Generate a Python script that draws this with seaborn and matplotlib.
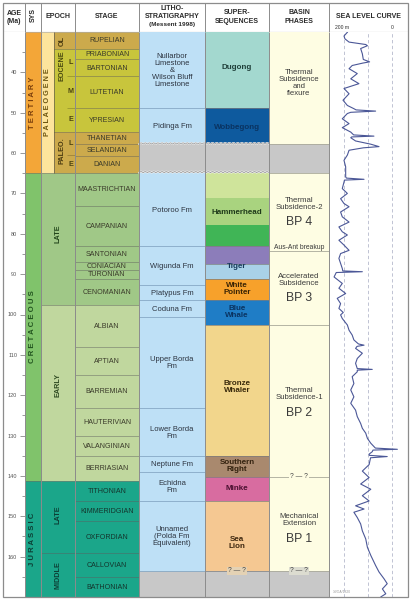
import numpy as np
import pandas as pd
import matplotlib
matplotlib.use('Agg')
import matplotlib.pyplot as plt
import seaborn as sns
from matplotlib.patches import Rectangle

sns.set_theme(style='white')
plt.rcParams['font.family'] = ['Liberation Sans', 'DejaVu Sans']

# ------------------------------------------------------------------ data
system_names = ['T E R T I A R Y', 'C R E T A C E O U S', 'J U R A S S I C']
system_bounds = [30.0, 64.9, 141.2, 170.0]
system_colors = ['#F3A638', '#80C36B', '#1BA68A']
system_text_colors = ['#7a3e0b', '#22551f', '#0c3f35']

palaeogene_name = 'P A L A E O G E N E'
palaeogene_bounds = [30.0, 64.9]

tert_series_names = ['OL', 'EOCENE', 'PALEO.']
tert_series_bounds = [30.0, 34.1, 54.8, 64.9]
tert_series_colors = ['#CCAA4C', '#C8C53C', '#CCAA4C']
tert_sub_names = ['L', 'M', 'E', 'L', 'E']
tert_sub_bounds = [34.1, 40.9, 48.8, 54.8, 60.6, 64.9]

epoch_names = ['LATE', 'EARLY', 'LATE', 'MIDDLE']
epoch_bounds = [64.9, 97.6, 141.2, 159.2, 170.0]
epoch_colors = ['#A0C887', '#C0D79E', '#1BA68A', '#1BA68A']
epoch_label_ages = [80.0, 117.5, 149.5, 164.6]

stage_names = ['RUPELIAN', 'PRIABONIAN', 'BARTONIAN', 'LUTETIAN', 'YPRESIAN',
               'THANETIAN', 'SELANDIAN', 'DANIAN', 'MAASTRICHTIAN', 'CAMPANIAN',
               'SANTONIAN', 'CONIACIAN', 'TURONIAN', 'CENOMANIAN', 'ALBIAN',
               'APTIAN', 'BARREMIAN', 'HAUTERIVIAN', 'VALANGINIAN', 'BERRIASIAN',
               'TITHONIAN', 'KIMMERIDGIAN', 'OXFORDIAN', 'CALLOVIAN', 'BATHONIAN']
stage_bounds = [30.0, 34.1, 36.8, 40.9, 48.8, 54.8, 57.8, 60.7, 64.9, 73.1,
                83.0, 87.1, 89.0, 91.1, 97.6, 108.0, 115.1, 123.1, 130.1, 135.0,
                141.2, 146.2, 151.1, 159.2, 165.0, 170.0]
stage_colors = (['#CCAA4C'] + ['#C8C53C'] * 4 + ['#CCAA4C'] * 3 +
                ['#A0C887'] * 6 + ['#C0D79E'] * 6 + ['#1BA68A'] * 5)

litho_names = ['Nullarbor\nLimestone\n&\nWilson Bluff\nLimestone', 'Pidinga Fm', '',
               'Potoroo Fm', 'Wigunda Fm', 'Platypus Fm', 'Coduna Fm',
               'Upper Borda\nFm', 'Lower Borda\nFm', 'Neptune Fm', 'Echidna\nFm',
               'Unnamed\n(Polda Fm\nEquivalent)', '']
litho_bounds = [30.0, 48.8, 57.8, 64.9, 83.0, 92.6, 96.4, 100.6, 123.1, 135.0,
                139.1, 146.1, 163.5, 170.0]
litho_colors = ['#BEE0F6', '#BEE0F6', '#C8C8C8'] + ['#BEE0F6'] * 9 + ['#C8C8C8']

super_bounds = [30.0, 48.8, 57.8, 64.9, 71.1, 77.7, 83.0, 87.5, 91.3, 96.4,
                102.6, 135.0, 140.2, 146.2, 163.5, 170.0]
super_colors = ['#A3D8CF', '#0E5A9E', '#C8C8C8', '#CFE49B', '#A9D37F', '#40B556',
                '#8C7DBA', '#A9D1E8', '#F7A12B', '#1F7DC6', '#F2D68C', '#A9896E',
                '#D86CA0', '#F5C892', '#C8C8C8']
super_labels = ['Dugong', 'Wobbegong', 'Hammerhead', 'Tiger', 'White\nPointer',
                'Blue\nWhale', 'Bronze\nWhaler', 'Southern\nRight', 'Minke', 'Sea\nLion']
super_label_ages = [38.9, 53.6, 74.7, 88.0, 93.8, 99.3, 118.0, 137.6, 143.0, 156.6]
super_label_colors = ['#1f3f3a', '#0a3361', '#1f3a1a', '#183a5c', '#3a2405',
                      '#0a3361', '#3a2a0c', '#33220f', '#4a1030', '#3e2810']

basin_bounds = [30.0, 57.8, 64.9, 84.3, 102.6, 140.2, 163.5, 170.0]
basin_colors = ['#FEFDE3', '#C8C8C8', '#FEFDE3', '#FEFDE3', '#FEFDE3', '#FEFDE3', '#C8C8C8']
basin_texts = ['Thermal\nSubsidence\nand\nflexure', 'Thermal\nSubsidence-2',
               'Accelerated\nSubsidence', 'Thermal\nSubsidence-1', 'Mechanical\nExtension']
basin_text_ages = [42.6, 72.7, 91.4, 119.6, 151.0]
bp_labels = ['BP 4', 'BP 3', 'BP 2', 'BP 1']
bp_ages = [77.2, 95.8, 124.4, 155.7]

age_major = list(range(40, 161, 10))
age_minor = list(range(35, 166, 10))

sl_age = [30.0, 31.0, 31.7, 32.5, 33.1, 33.4, 34.1, 35.4, 36.8, 37.4, 37.7, 38.3,
          39.1, 40.3, 41.6, 42.8, 44.0, 45.3, 46.9, 48.2, 49.0, 49.3, 49.6, 49.9,
          50.2, 51.5, 52.7, 53.7, 54.8, 55.5, 55.8, 56.0, 56.2, 57.0, 57.8, 58.4,
          58.7, 59.3, 60.5, 61.8, 63.4, 63.8, 65.9, 66.2, 66.5, 66.7, 67.2, 68.8,
          70.0, 71.3, 72.5, 73.3, 74.6, 75.8, 77.1, 78.3, 79.5, 80.3, 81.6, 82.8,
          84.1, 84.9, 86.1, 88.6, 89.2, 89.4, 89.6, 90.7, 92.3, 93.5, 94.8, 96.0,
          97.3, 98.5, 99.5, 100.1, 101.0, 102.6, 103.9, 105.1, 106.3, 107.3, 107.6,
          107.9, 108.4, 109.6, 110.9, 112.1, 113.4, 113.6, 113.8, 114.2, 115.4,
          117.1, 118.7, 120.4, 122.0, 123.7, 125.3, 127.0, 128.2, 129.4, 130.7,
          131.9, 133.1, 133.4, 133.6, 134.0, 134.6, 134.9, 135.2, 135.5, 137.2,
          138.8, 140.4, 142.0, 143.3, 144.9, 146.2, 147.4, 148.2, 149.0, 150.3,
          151.9, 153.6, 155.6, 157.7, 159.7, 162.2, 163.8, 165.5, 166.7, 168.0,
          169.2, 170.0]
sl_m = [185, 200, 196, 179, 110, 103, 131, 124, 120, 94, 122, 166,
        179, 145, 172, 138, 200, 179, 204, 186, 159, 150, 69, 172,
        186, 207, 179, 207, 172, 160, 76, 168, 172, 152, 89, 55,
        120, 179, 186, 200, 193, 193, 193, 190, 117, 198, 200, 207,
        186, 214, 200, 179, 214, 207, 179, 221, 207, 186, 221, 200,
        179, 214, 221, 207, 205, 124, 232, 241, 207, 221, 193, 228,
        214, 221, 203, 214, 207, 186, 179, 166, 159, 140, 117,
        146, 152, 124, 145, 152, 145, 83, 145, 145, 166,
        159, 172, 159, 172, 152, 145, 131, 124, 110, 103,
        89, 70, -21, 80, 83, 96, 95, 21, 90, 96,
        124, 96, 131, 89, 124, 96, 152, 117, 159, 145,
        131, 124, 110, 103, 89, 69, 55, 34, 21, 41,
        27, 48]
sl_grid = [200, 100, 0]

# ------------------------------------------------------------------ layout
W, H = 412, 600
fig = plt.figure(figsize=(W / 100, H / 100), dpi=100)
fig.patch.set_facecolor('white')


def fx(px):
    return px / W


def fy(py):
    return 1 - py / H


TOP_PX, BOT_PX = 32, 597
ax = fig.add_axes([fx(25), fy(BOT_PX), fx(408) - fx(25), fy(TOP_PX) - fy(BOT_PX)])
ax.set_xlim(25, 408)
ax.set_ylim(170, 30)
ax.set_facecolor('white')
for s in ax.spines.values():
    s.set_visible(False)


def blocks(x0, x1, bounds, colors, ec='none', lw=0.0):
    tops = np.array(bounds[:-1])
    bots = np.array(bounds[1:])
    ax.bar([(x0 + x1) / 2] * len(tops), bots - tops, bottom=tops, width=x1 - x0,
           color=colors, edgecolor=ec, linewidth=lw, align='center', zorder=1)


def label(x, y, s, size=4.8, color='#333333', weight='normal', rot=0, **kw):
    ax.text(x, y, s, fontsize=size, color=color, fontweight=weight, rotation=rot,
            ha='center', va='center', linespacing=1.0, zorder=5, **kw)


EDGE = (0, 0, 0, 0.28)

# system column
blocks(25, 41, system_bounds, system_colors, ec=EDGE, lw=0.5)
for i, n in enumerate(system_names):
    label(33, (system_bounds[i] + system_bounds[i + 1]) / 2, n, size=5.6,
          color=system_text_colors[i], weight='bold', rot=90)

# palaeogene + tertiary series
blocks(41, 54, palaeogene_bounds, ['#FDE49C'], ec=EDGE, lw=0.5)
label(47.5, 47.3, palaeogene_name, size=5.2, color='#6b5410', weight='bold', rot=90)
blocks(54, 75, tert_series_bounds, tert_series_colors, ec=EDGE, lw=0.5)
label(62, 32.1, 'OL', size=5.2, color='#4a3a10', weight='bold', rot=90)
label(61.5, 38.3, 'EOCENE', size=5.2, color='#4a4a10', weight='bold', rot=90)
label(61.5, 59.3, 'PALEO.', size=5.2, color='#4a3a10', weight='bold', rot=90)
for i, n in enumerate(tert_sub_names):
    label(71, (tert_sub_bounds[i] + tert_sub_bounds[i + 1]) / 2, n, size=5.2,
          color='#4a4210', weight='bold')
ax.hlines([40.9, 48.8, 60.6], 67, 75, color=EDGE, lw=0.5, zorder=2)

# cretaceous / jurassic epochs
blocks(41, 75, epoch_bounds, epoch_colors, ec=EDGE, lw=0.5)
epoch_text_colors = ['#23461c', '#2f4a22', '#0c3f35', '#0c3f35']
for i, n in enumerate(epoch_names):
    label(58, epoch_label_ages[i], n, size=5.2, color=epoch_text_colors[i],
          weight='bold', rot=90)

# stages
blocks(75, 139, stage_bounds, stage_colors, ec=EDGE, lw=0.5)
for i, n in enumerate(stage_names):
    c = '#14352d' if i >= 20 else '#3a3a2a'
    label(107, (stage_bounds[i] + stage_bounds[i + 1]) / 2 + 0.1, n, size=5.1, color=c)

# lithostratigraphy
blocks(139, 205, litho_bounds, litho_colors)
ax.hlines([48.8, 83.0, 92.6, 96.4, 100.6, 123.1, 135.0, 139.1, 146.1, 163.5],
          139, 205, color='#86a9c6', lw=0.6, zorder=2)
for i, n in enumerate(litho_names):
    if n:
        label(172, (litho_bounds[i] + litho_bounds[i + 1]) / 2 + 0.2, n, size=5.5,
              color='#2c3440')

# supersequences
blocks(205, 269, super_bounds, super_colors)
ax.hlines([48.8, 83.0, 87.5, 91.3, 96.4, 102.6, 135.0, 140.2, 146.2, 163.5],
          205, 269, color='#7c7c7c', lw=0.5, zorder=2)
for i, n in enumerate(super_labels):
    label(237, super_label_ages[i], n, size=5.8, color=super_label_colors[i], weight='bold')

# wavy unconformities
xw = np.linspace(139, 269, 600)
for a in [57.8, 64.9]:
    yw = a - 0.32 * np.abs(np.sin(np.pi * (xw - 139) / 4.2))
    ax.plot(xw, yw, color='#f2f2f2', lw=1.3, zorder=3)
    ax.plot(xw, yw, color='#8a8a8a', lw=0.45, zorder=3)

# basin phases
blocks(269, 329, basin_bounds, basin_colors)
ax.hlines([57.8, 64.9, 84.3, 102.6, 140.2, 163.5], 269, 329, color='#a9a99a', lw=0.6, zorder=2)
for t, a in zip(basin_texts, basin_text_ages):
    label(299, a, t, size=5.6, color='#3a3a3a')
for t, a in zip(bp_labels, bp_ages):
    label(299, a, t, size=8.8, color='#3a3a3a')
label(299, 83.3, 'Aus-Ant breakup', size=4.9, color='#3a3a3a')
qbox = dict(boxstyle='square,pad=0.1', fc='#FEFDE3', ec='none')
label(299, 140.2, '? — ?', size=4.8, color='#444444', bbox=qbox)
label(299, 163.5, '? — ?', size=4.8, color='#444444',
      bbox=dict(boxstyle='square,pad=0.1', fc='#dcdcd0', ec='none'))
label(237, 163.5, '? — ?', size=4.8, color='#444444',
      bbox=dict(boxstyle='square,pad=0.1', fc='#e4d2b4', ec='none'))

# column separators
ax.vlines([25, 41, 75, 139, 205, 269, 329], 30, 170, color='#8c8c8c', lw=0.7,
          zorder=4, clip_on=False)
ax.vlines([54], 30, 64.9, color=EDGE, lw=0.5, zorder=4)

# age axis
ax.set_xticks([])
ax.set_yticks(age_major)
ax.set_yticks(age_minor, minor=True)
ax.set_yticklabels([str(v) for v in age_major])
ax.tick_params(axis='y', which='major', left=True, direction='out', length=3.8,
               width=0.5, colors='#707070', labelsize=4, pad=1.8, labelcolor='#555555')
ax.tick_params(axis='y', which='minor', left=True, direction='out', length=2.2,
               width=0.5, colors='#707070')
ax.text(333, 168.8, '14/OA/1820', fontsize=2.4, color='#9a9a9a', ha='left',
        va='center', zorder=6)

# sea level curve
ax_sl = fig.add_axes([fx(329), fy(BOT_PX), fx(408) - fx(329), fy(TOP_PX) - fy(BOT_PX)])
ax_sl.set_xlim(262, -65)
ax_sl.set_ylim(170, 30)
ax_sl.patch.set_alpha(0)
for g in sl_grid:
    ax_sl.axvline(g, color='#b5b9cc', lw=0.6, ls=(0, (4, 3)), zorder=1)
sl_df = pd.DataFrame({'sea_level_m': sl_m, 'age_ma': sl_age})
sns.lineplot(data=sl_df, x='sea_level_m', y='age_ma', sort=False, estimator=None,
             color='#4b5797', lw=0.8, ax=ax_sl, zorder=3)
ax_sl.set_xlim(262, -65)
ax_sl.set_ylim(170, 30)
ax_sl.axis('off')

# header
ax_h = fig.add_axes([fx(3), fy(32), fx(408) - fx(3), fy(3) - fy(32)])
ax_h.set_xlim(3, 408)
ax_h.set_ylim(32, 3)
ax_h.axis('off')
ax_h.vlines([25, 41, 75, 139, 205, 269, 329], 3, 32, color='#8c8c8c', lw=0.7)
ax_h.hlines([32], 3, 408, color='#8c8c8c', lw=0.8)
HC = '#2b2b2b'


def htext(x, y, s, size=5.0, rot=0, weight='bold'):
    ax_h.text(x, y, s, fontsize=size, color=HC, fontweight=weight, rotation=rot,
              ha='center', va='center', linespacing=1.0)


htext(14, 13.3, 'AGE')
htext(14, 21.7, '(Ma)')
htext(33, 15.5, 'SYS', rot=90)
htext(58, 17, 'EPOCH')
htext(107, 17, 'STAGE')
htext(172, 8.3, 'LITHO-')
htext(172, 16.3, 'STRATIGRAPHY')
htext(172, 24.3, '(Messent 1998)', size=4.6)
htext(237, 12.3, 'SUPER-')
htext(237, 21.5, 'SEQUENCES')
htext(299, 12.3, 'BASIN')
htext(299, 21.5, 'PHASES')
htext(368, 16.5, 'SEA LEVEL CURVE')
htext(342, 27.5, '200 m', size=3.6, weight='normal')
htext(392, 27.5, '0', size=3.6, weight='normal')

# outer frame
fig.add_artist(Rectangle((fx(3), fy(597)), fx(408) - fx(3), fy(3) - fy(597),
                         transform=fig.transFigure, fill=False, lw=0.9, ec='#8c8c8c'))

fig.savefig('out.png', dpi=100, facecolor='white')
